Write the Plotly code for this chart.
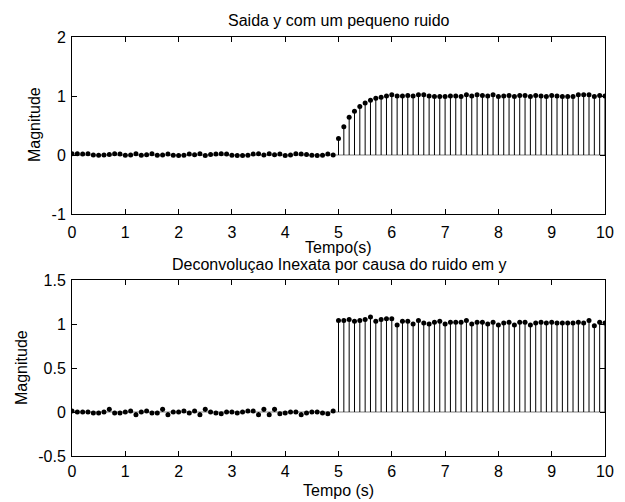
import plotly.graph_objects as go

# ---- data ----
t = [round(i * 0.1, 1) for i in range(101)]

top_pre = [0.02, 0.02, 0.015, 0.02, 0.0, -0.005, 0.0, 0.01, 0.02, 0.015,
           -0.005, 0.0, 0.02, -0.005, 0.005, 0.02, -0.005, 0.0, 0.015, -0.005,
           -0.01, -0.005, 0.015, 0.005, 0.02, -0.01, 0.01, 0.015, 0.02, 0.015,
           -0.005, -0.01, -0.01, -0.005, 0.015, 0.02, 0.0, 0.02, 0.005, 0.015,
           -0.01, 0.0, 0.02, 0.015, 0.01, -0.005, -0.01, -0.005, 0.015, 0.0]
top_post = [0.28, 0.48, 0.64, 0.74, 0.82, 0.88, 0.93, 0.96, 0.98, 1.00,
            1.02, 1.00, 1.00, 1.01, 1.00, 1.02, 1.02, 1.00, 0.99, 0.99,
            0.99, 1.00, 1.00, 0.99, 1.02, 1.00, 1.02, 1.01, 1.00, 1.02,
            0.99, 1.00, 1.01, 0.99, 1.01, 1.01, 0.99, 1.01, 1.00, 0.99,
            1.01, 1.00, 0.99, 0.99, 0.99, 1.02, 1.02, 1.02, 0.99, 1.01,
            1.00]
y_top = top_pre + top_post

bot_pre = [0.01, 0.0, 0.0, 0.0, -0.01, -0.01, 0.0, 0.03, -0.01, -0.01,
           0.0, 0.01, -0.03, 0.0, 0.01, -0.01, -0.01, 0.03, -0.03, 0.0,
           0.0, 0.01, -0.01, 0.01, -0.03, 0.03, 0.0, -0.01, -0.02, 0.0,
           0.0, -0.01, 0.0, 0.01, 0.01, -0.03, 0.03, -0.03, 0.03, -0.02,
           -0.01, 0.0, 0.0, -0.03, -0.01, 0.0, 0.0, -0.01, -0.02, 0.01]
bot_post = [1.04, 1.04, 1.05, 1.03, 1.04, 1.05, 1.08, 1.03, 1.05, 1.06,
            1.06, 0.99, 1.03, 1.03, 1.00, 1.04, 1.01, 1.00, 1.02, 1.03,
            1.00, 1.02, 1.02, 1.02, 1.04, 1.00, 1.02, 1.02, 1.00, 1.02,
            0.99, 1.01, 1.02, 0.99, 1.02, 1.02, 0.99, 1.01, 1.02, 1.01,
            1.02, 1.01, 1.01, 1.01, 1.01, 1.02, 1.01, 1.04, 0.98, 1.02,
            1.01]
y_bot = bot_pre + bot_post

x_ticks = list(range(11))
y_ticks_top = [-1, 0, 1, 2]
y_ticks_bot = [-0.5, 0, 0.5, 1, 1.5]
y_ticktext_top = ["-1", "0", "1", "2"]
y_ticktext_bot = ["-0.5", "0", "0.5", "1", "1.5"]

titles = ["Saida y com um pequeno ruido", "Deconvoluçao Inexata por causa do ruido em y"]
xlabels = ["Tempo(s)", "Tempo (s)"]
ylabel = "Magnitude"

FONT = "Arial, Liberation Sans, sans-serif"
OFF = 8                      # page body margin
W, H = 625 - OFF, 502 - OFF  # figure fits the window after the body margin


def px(p):
    return (p - OFF) / W


def py(p):
    return 1 - (p - OFF) / H


fig = go.Figure()


def add_stem(x, y, xa, ya):
    sx, sy = [], []
    for xi, yi in zip(x, y):
        sx += [xi, xi, None]
        sy += [0, yi, None]
    fig.add_trace(go.Scatter(x=[x[0], x[-1]], y=[0, 0], mode="lines",
                             line=dict(color="#808080", width=1),
                             xaxis=xa, yaxis=ya, hoverinfo="skip"))
    fig.add_trace(go.Scatter(x=sx, y=sy, mode="lines",
                             line=dict(color="#000000", width=1),
                             xaxis=xa, yaxis=ya, hoverinfo="skip"))
    fig.add_trace(go.Scatter(x=x, y=y, mode="markers",
                             marker=dict(color="black", size=5),
                             xaxis=xa, yaxis=ya))


add_stem(t, y_top, "x", "y")
add_stem(t, y_bot, "x2", "y2")

xdom = [px(72), px(605)]
common_axis = dict(showline=True, linecolor="black", linewidth=1, mirror="ticks",
                   ticks="inside", ticklen=5, tickcolor="black", showgrid=False,
                   zeroline=False, automargin=False,
                   tickfont=dict(family=FONT, size=16, color="black"))

fig.update_layout(
    width=W, height=H, margin=dict(l=0, r=0, t=0, b=0),
    paper_bgcolor="white", plot_bgcolor="white", showlegend=False,
    xaxis=dict(domain=xdom, range=[0, 10], tickvals=x_ticks, anchor="y",
               ticklabelstandoff=4, **common_axis),
    yaxis=dict(domain=[py(214), py(37)], range=[-1, 2], tickvals=y_ticks_top,
               ticktext=y_ticktext_top, anchor="x", ticklabelstandoff=2, **common_axis),
    xaxis2=dict(domain=xdom, range=[0, 10], tickvals=x_ticks, anchor="y2",
                ticklabelstandoff=1, **common_axis),
    yaxis2=dict(domain=[py(456), py(280)], range=[-0.5, 1.5], tickvals=y_ticks_bot,
                ticktext=y_ticktext_bot, anchor="x2", ticklabelstandoff=2, **common_axis),
)

xc = px((72 + 605) / 2)
ann_font = dict(family=FONT, size=16, color="black")
annotations = [
    dict(text=titles[0], x=xc, y=py(20), xref="paper", yref="paper",
         showarrow=False, font=ann_font, xanchor="center", yanchor="middle"),
    dict(text=xlabels[0], x=xc, y=py(247), xref="paper", yref="paper",
         showarrow=False, font=ann_font, xanchor="center", yanchor="middle"),
    dict(text=titles[1], x=xc, y=py(264), xref="paper", yref="paper",
         showarrow=False, font=ann_font, xanchor="center", yanchor="middle"),
    dict(text=xlabels[1], x=xc, y=py(490), xref="paper", yref="paper",
         showarrow=False, font=ann_font, xanchor="center", yanchor="middle"),
    dict(text=ylabel, x=px(35), y=py(125), xref="paper", yref="paper",
         showarrow=False, font=ann_font, textangle=-90, xanchor="center", yanchor="middle"),
    dict(text=ylabel, x=px(21), y=py(368), xref="paper", yref="paper",
         showarrow=False, font=ann_font, textangle=-90, xanchor="center", yanchor="middle"),
]
fig.update_layout(annotations=annotations)

fig.write_html("out.html")
